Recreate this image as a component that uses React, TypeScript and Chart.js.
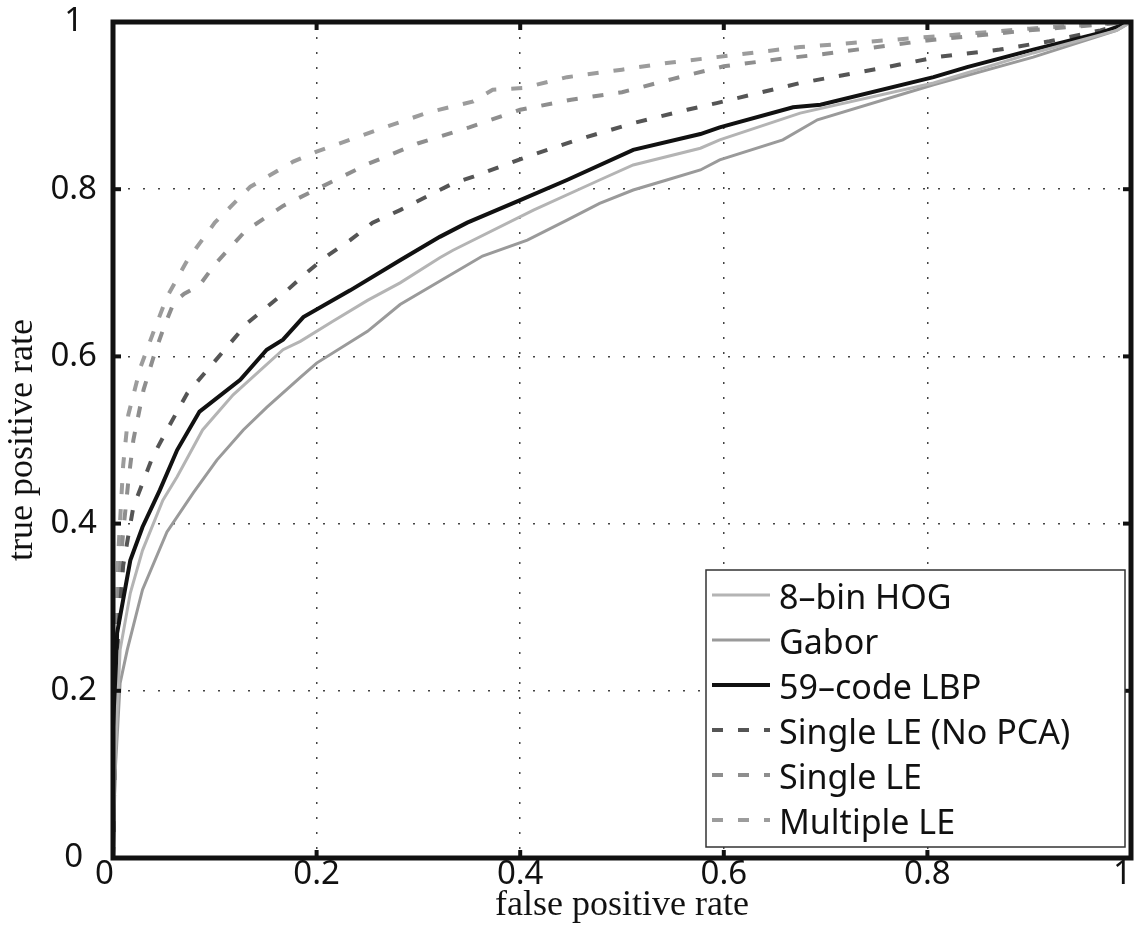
import React, { useEffect, useRef } from "react";
import { Chart, registerables } from "chart.js";

Chart.register(...registerables);

// ---- data ----
const seriesNames = ["8–bin HOG", "Gabor", "59–code LBP", "Single LE (No PCA)", "Single LE", "Multiple LE"];

const hogFpr = [0, 0.002, 0.007, 0.017, 0.029, 0.049, 0.063, 0.088, 0.118, 0.167, 0.184, 0.216, 0.25, 0.282, 0.321, 0.334, 0.413, 0.478, 0.511, 0.577, 0.596, 0.675, 0.806, 0.904, 0.986, 1];
const hogTpr = [0, 0.12, 0.249, 0.317, 0.368, 0.428, 0.456, 0.512, 0.554, 0.608, 0.618, 0.642, 0.667, 0.688, 0.718, 0.727, 0.775, 0.811, 0.829, 0.849, 0.859, 0.891, 0.927, 0.963, 0.99, 1];

const gaborFpr = [0, 0.002, 0.007, 0.014, 0.029, 0.053, 0.079, 0.102, 0.128, 0.151, 0.184, 0.2, 0.25, 0.282, 0.363, 0.407, 0.446, 0.478, 0.511, 0.544, 0.577, 0.596, 0.658, 0.692, 0.806, 0.904, 0.986, 1];
const gaborTpr = [0, 0.1, 0.209, 0.249, 0.321, 0.39, 0.437, 0.476, 0.512, 0.539, 0.575, 0.592, 0.63, 0.662, 0.72, 0.739, 0.763, 0.783, 0.799, 0.811, 0.823, 0.835, 0.859, 0.883, 0.925, 0.958, 0.99, 1];

const lbpFpr = [0, 0.002, 0.004, 0.01, 0.017, 0.029, 0.046, 0.063, 0.085, 0.125, 0.151, 0.167, 0.187, 0.233, 0.282, 0.321, 0.348, 0.4, 0.446, 0.511, 0.577, 0.596, 0.668, 0.695, 0.806, 0.839, 0.904, 0.97, 1];
const lbpTpr = [0, 0.15, 0.269, 0.309, 0.356, 0.396, 0.44, 0.488, 0.534, 0.572, 0.608, 0.62, 0.647, 0.679, 0.715, 0.743, 0.76, 0.787, 0.811, 0.847, 0.866, 0.874, 0.898, 0.901, 0.934, 0.946, 0.967, 0.987, 1];

const noPcaFpr = [0, 0.002, 0.005, 0.01, 0.02, 0.039, 0.053, 0.073, 0.095, 0.132, 0.171, 0.19, 0.21, 0.233, 0.255, 0.282, 0.308, 0.334, 0.354, 0.407, 0.456, 0.511, 0.564, 0.593, 0.675, 0.756, 0.809, 0.871, 0.92, 0.97, 1];
const noPcaTpr = [0, 0.15, 0.27, 0.35, 0.42, 0.48, 0.512, 0.556, 0.587, 0.64, 0.679, 0.7, 0.72, 0.739, 0.76, 0.775, 0.791, 0.807, 0.815, 0.839, 0.859, 0.879, 0.895, 0.903, 0.927, 0.945, 0.958, 0.967, 0.977, 0.99, 1];

const singleFpr = [0, 0.003, 0.006, 0.01, 0.015, 0.02, 0.03, 0.04, 0.05, 0.06, 0.07, 0.085, 0.1, 0.13, 0.167, 0.2, 0.25, 0.3, 0.35, 0.4, 0.45, 0.5, 0.55, 0.6, 0.65, 0.7, 0.8, 0.9, 1];
const singleTpr = [0, 0.2, 0.33, 0.39, 0.45, 0.5, 0.56, 0.6, 0.635, 0.665, 0.675, 0.685, 0.71, 0.75, 0.78, 0.8, 0.83, 0.855, 0.874, 0.895, 0.907, 0.916, 0.932, 0.947, 0.955, 0.962, 0.978, 0.99, 1];

const multiFpr = [0, 0.002, 0.005, 0.01, 0.015, 0.027, 0.04, 0.053, 0.073, 0.1, 0.135, 0.177, 0.2, 0.26, 0.31, 0.354, 0.373, 0.403, 0.446, 0.5, 0.544, 0.593, 0.675, 0.8, 0.9, 1];
const multiTpr = [0, 0.2, 0.36, 0.47, 0.53, 0.587, 0.63, 0.671, 0.715, 0.76, 0.803, 0.833, 0.845, 0.871, 0.892, 0.905, 0.919, 0.921, 0.934, 0.943, 0.951, 0.958, 0.97, 0.982, 0.992, 1];

const xTicks = [0, 0.2, 0.4, 0.6, 0.8, 1];
const yTicks = [0, 0.2, 0.4, 0.6, 0.8, 1];

const toPoints = (xs: number[], ys: number[]) => xs.map((x, i) => ({ x, y: ys[i] }));
const fmt = (v: any) => String(Number(Number(v).toFixed(1)));

const tickFont = { family: "'Noto Sans', 'Open Sans', sans-serif", size: 33, lineHeight: 1 };
const titleFont = { family: "'Liberation Serif', 'DejaVu Serif', serif", size: 36, lineHeight: 0.72 };

const framePlugin = {
  id: "matlabFrame",
  afterDatasetsDraw(chart: any) {
    const { ctx, chartArea: a, scales } = chart;
    ctx.save();
    ctx.strokeStyle = "#111";
    ctx.lineWidth = 5;
    ctx.strokeRect(a.left, a.top, a.right - a.left, a.bottom - a.top);
    const tl = 8;
    const seg = (x1: number, y1: number, x2: number, y2: number) => {
      ctx.beginPath();
      ctx.moveTo(x1, y1);
      ctx.lineTo(x2, y2);
      ctx.stroke();
    };
    ctx.lineWidth = 4;
    xTicks.forEach((v) => {
      const x = scales.x.getPixelForValue(v);
      seg(x, a.bottom, x, a.bottom - tl);
      seg(x, a.top, x, a.top + tl);
    });
    yTicks.forEach((v) => {
      const y = scales.y.getPixelForValue(v);
      seg(a.left, y, a.left + tl, y);
      seg(a.right, y, a.right - tl, y);
    });
    ctx.restore();
  },
};

const legendPlugin = {
  id: "boxLegend",
  afterDraw(chart: any) {
    const { ctx } = chart;
    const box = { left: 706, top: 570, right: 1125, bottom: 847 };
    ctx.save();
    ctx.fillStyle = "#fff";
    ctx.fillRect(box.left, box.top, box.right - box.left, box.bottom - box.top);
    ctx.strokeStyle = "#333";
    ctx.lineWidth = 1.5;
    ctx.strokeRect(box.left, box.top, box.right - box.left, box.bottom - box.top);
    ctx.font = "34px 'Noto Sans', 'Open Sans', sans-serif";
    ctx.textBaseline = "alphabetic";
    ctx.textAlign = "left";
    chart.data.datasets.forEach((ds: any, i: number) => {
      const cy = 597 + i * 45;
      ctx.save();
      ctx.strokeStyle = ds.borderColor;
      ctx.lineWidth = ds.borderWidth;
      ctx.setLineDash(ds.borderDash || []);
      ctx.beginPath();
      ctx.moveTo(712, cy - 2);
      ctx.lineTo(770, cy - 2);
      ctx.stroke();
      ctx.restore();
      ctx.fillStyle = "#111";
      ctx.fillText(ds.label, 779, cy + 12);
    });
    ctx.restore();
  },
};

export default function App() {
  const canvasRef = useRef<HTMLCanvasElement | null>(null);

  useEffect(() => {
    const canvas = canvasRef.current;
    if (!canvas) return;
    const styles = [
      { color: "#b4b4b4", width: 3, dash: [] as number[] },
      { color: "#9a9a9a", width: 3, dash: [] as number[] },
      { color: "#111111", width: 4, dash: [] as number[] },
      { color: "#555555", width: 4, dash: [11, 15] },
      { color: "#8e8e8e", width: 4, dash: [11, 15] },
      { color: "#9c9c9c", width: 4, dash: [11, 15] },
    ];
    const series = [
      toPoints(hogFpr, hogTpr),
      toPoints(gaborFpr, gaborTpr),
      toPoints(lbpFpr, lbpTpr),
      toPoints(noPcaFpr, noPcaTpr),
      toPoints(singleFpr, singleTpr),
      toPoints(multiFpr, multiTpr),
    ];
    const chart = new Chart(canvas, {
      type: "scatter",
      data: {
        datasets: series.map((pts, i) => ({
          label: seriesNames[i],
          data: pts,
          showLine: true,
          borderColor: styles[i].color,
          backgroundColor: styles[i].color,
          borderWidth: styles[i].width,
          borderDash: styles[i].dash,
          pointRadius: 0,
          tension: 0,
          fill: false,
        })),
      },
      options: {
        animation: false,
        responsive: true,
        maintainAspectRatio: false,
        layout: { autoPadding: false, padding: { top: 22, right: 3, left: 0, bottom: 0 } },
        plugins: { legend: { display: false }, tooltip: { enabled: false }, title: { display: false } },
        scales: {
          x: {
            type: "linear",
            min: 0,
            max: 1,
            afterFit: (s: any) => {
              s.height = 90;
              s.paddingLeft = 0;
              s.paddingRight = 0;
            },
            afterBuildTicks: (s: any) => { s.ticks = xTicks.map((v) => ({ value: v })); },
            ticks: {
              color: "#111",
              font: tickFont,
              padding: 0,
              maxRotation: 0,
              callback: (v: any, i: number) => (i === 0 || i === xTicks.length - 1 ? fmt(v) + "  " : fmt(v)),
            },
            grid: { color: "#444", lineWidth: 1.5, drawTicks: false },
            border: { display: false, dash: [2, 13] },
            title: {
              display: true,
              text: "false positive rate",
              color: "#111",
              font: titleFont,
              padding: { top: 0, bottom: 29 },
            },
          },
          y: {
            type: "linear",
            min: 0,
            max: 1,
            afterFit: (s: any) => {
              s.width = 113;
              s.paddingTop = 0;
              s.paddingBottom = 0;
            },
            afterBuildTicks: (s: any) => { s.ticks = yTicks.map((v) => ({ value: v })); },
            ticks: {
              color: "#111",
              font: tickFont,
              padding: 16,
              crossAlign: "center",
              callback: (v: any) => fmt(v),
            },
            grid: { color: "#444", lineWidth: 1.5, drawTicks: false },
            border: { display: false, dash: [2, 13] },
            title: {
              display: true,
              text: "true positive rate",
              color: "#111",
              font: titleFont,
              padding: { top: 10, bottom: 0 },
            },
          },
        },
      },
      plugins: [framePlugin, legendPlugin],
    });
    return () => chart.destroy();
  }, []);

  return (
    <div style={{ position: "absolute", left: 0, top: 0, width: 1134, height: 948, overflow: "hidden", background: "#fff" }}>
      <canvas ref={canvasRef} />
    </div>
  );
}
